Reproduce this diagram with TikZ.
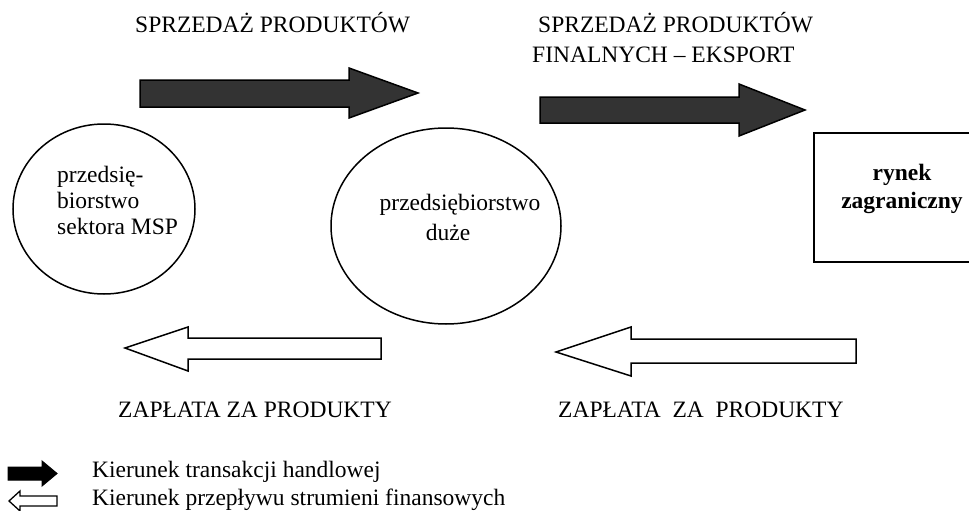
\documentclass[tikz,border=0pt]{standalone}
\usepackage{fontspec}
\setmainfont{Liberation Serif}
\usetikzlibrary{shapes.geometric}
\definecolor{arrowfill}{RGB}{51,51,51}
\begin{document}
\begin{tikzpicture}[x=1pt,y=-1pt,
  big/.style={font=\fontsize{23.5}{27}\selectfont, inner sep=0pt},
  darkarrow/.style={draw=black, line width=1.5pt, fill=arrowfill, line join=miter},
  lightarrow/.style={draw=black, line width=1.5pt, fill=white, line join=miter},
  legblack/.style={draw=black, line width=1pt, fill=black, line join=miter},
  legwhite/.style={draw=black, line width=1.3pt, fill=white, line join=miter},
  firm/.style={draw=black, line width=1.5pt, ellipse, inner sep=0pt}]
\useasboundingbox (0,0) rectangle (969,511);
\clip (0,0) rectangle (969,511);
% entities
\node[firm, minimum width=182, minimum height=170] (msp) at (104,209) {};
\node[firm, minimum width=230, minimum height=196] (duze) at (446,226) {};
\node[draw=black, line width=2pt, anchor=north west, minimum width=170, minimum height=129, inner sep=0pt] (rynek) at (813,132) {};
% texts in entities
\node[big, anchor=base west] (m1) at (57,182) {przedsię-};
\node[big, anchor=base west] (m2) at (57,208) {biorstwo};
\node[big, anchor=base west] (m3) at (57,234) {sektora MSP};
\node[big, anchor=base] (d1) at (460,210) {przedsiębiorstwo};
\node[big, anchor=base] (d2) at (448,240) {duże};
\node[big, anchor=base, font=\fontsize{23.5}{27}\selectfont\bfseries] (r1) at (902,180) {rynek};
\node[big, anchor=base, font=\fontsize{23.5}{27}\selectfont\bfseries] (r2) at (902,208) {zagraniczny};
% flow arrows
\draw[darkarrow] (140,80) -- (349,80) -- (349,68) -- (418,93) -- (349,118) -- (349,107) -- (140,107) -- cycle;
\draw[darkarrow] (540,97) -- (739,97) -- (739,84) -- (805,110) -- (739,136) -- (739,123) -- (540,123) -- cycle;
\draw[lightarrow] (381,338) -- (188,338) -- (188,327) -- (125,348) -- (188,371) -- (188,359) -- (381,359) -- cycle;
\draw[lightarrow] (856,339) -- (631,339) -- (631,327) -- (556,352) -- (631,376) -- (631,363) -- (856,363) -- cycle;
% arrow labels
\node[big, anchor=base west] (s1) at (135,33) {SPRZEDAŻ PRODUKTÓW};
\node[big, anchor=base west] (s2a) at (538,33) {SPRZEDAŻ PRODUKTÓW};
\node[big, anchor=base west] (s2b) at (532,63) {FINALNYCH – EKSPORT};
\node[big, anchor=base west] (z1) at (118,417) {ZAPŁATA ZA PRODUKTY};
\node[big, anchor=base west] (z2) at (558,417) {ZAPŁATA\ \ ZA\ \ PRODUKTY};
% legend
\draw[legblack] (8,467) -- (42,467) -- (42,461) -- (57,473.5) -- (42,486) -- (42,480) -- (8,480) -- cycle;
\draw[legwhite] (57,496) -- (20,496) -- (20,491) -- (9,501) -- (20,511) -- (20,506) -- (57,506) -- cycle;
\node[big, anchor=base west] (l1) at (92,477) {Kierunek transakcji handlowej};
\node[big, anchor=base west] (l2) at (92,505) {Kierunek przepływu strumieni finansowych};
\end{tikzpicture}
\end{document}
